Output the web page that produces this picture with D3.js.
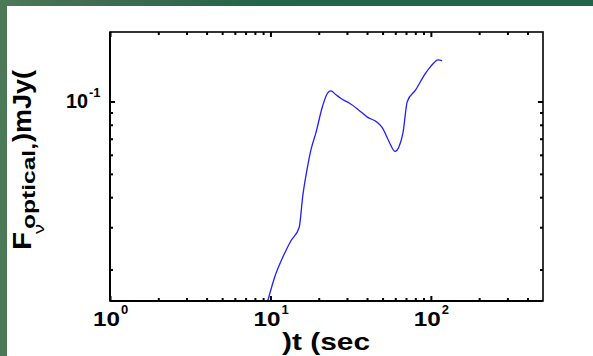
<!DOCTYPE html>
<html><head><meta charset="utf-8">
<script src="https://cdn.jsdelivr.net/npm/d3@7"></script>
<style>body{margin:0;background:#fff;overflow:hidden}svg{display:block}</style>
</head><body>
<svg id="c" width="593" height="356"></svg>
<script>
// ---- data ----
const time = [9.62, 10.6, 11.9, 13.4, 15.1, 15.9, 17.05, 17.9, 19.2, 21.1, 22.7, 23.8, 25.6, 28.8, 31.0, 35.7, 40.2, 46.4, 49.9, 54.8, 59.7, 63.2, 67.0, 71.3, 80.4, 92.7, 99.6, 111, 117.5];
const flux = [0.0148, 0.0185, 0.0224, 0.0263, 0.0299, 0.0404, 0.0537, 0.0630, 0.0740, 0.0953, 0.1084, 0.1107, 0.1066, 0.1010, 0.0985, 0.0918, 0.0861, 0.0818, 0.0776, 0.0682, 0.0620, 0.0647, 0.0740, 0.1000, 0.1118, 0.1312, 0.1397, 0.149, 0.148];
const xMajor = [1, 10, 100];
const xMajorExp = ["0", "1", "2"];
const xMinor = [2,3,4,5,6,7,8,9,20,30,40,50,60,70,80,90,200,300,400];
const yMajor = [0.1];
const yMajorExp = ["-1"];
const yMinor = [0.02,0.03,0.04,0.05,0.06,0.07,0.08,0.09];
const xDomain = [1, 500];
const yDomain = [0.0148, 0.1945];
const xTitle = ")t (sec";
const yTitleMain = "F";
const yTitleNu = "ν";
const yTitleSub = "optical,";
const yTitleUnit = ")mJy(";

const svg = d3.select("#c");
const L = 110, R = 543, T = 32, B = 301;

// background frame
const defs = svg.append("defs");
const g0 = defs.append("linearGradient").attr("id","bg").attr("x1","0").attr("x2","1").attr("y1","0").attr("y2","0");
g0.append("stop").attr("offset","0").attr("stop-color","#4c7a57");
g0.append("stop").attr("offset","0.1").attr("stop-color","#456f52");
g0.append("stop").attr("offset","0.45").attr("stop-color","#23644a");
g0.append("stop").attr("offset","1").attr("stop-color","#22634a");
svg.append("rect").attr("width",593).attr("height",356).attr("fill","url(#bg)");
svg.append("rect").attr("x",7).attr("y",6).attr("width",586).attr("height",350).attr("fill","#fff");

const x = d3.scaleLog().domain(xDomain).range([L, R]);
const y = d3.scaleLog().domain(yDomain).range([B, T]);

defs.append("clipPath").attr("id","clip").append("rect").attr("x",L).attr("y",T).attr("width",R-L).attr("height",B-T);

// curve
svg.append("path")
  .datum(time.map((t,i)=>[t, flux[i]]))
  .attr("clip-path","url(#clip)")
  .attr("fill","none").attr("stroke","#1f1fff").attr("stroke-width",1.3)
  .attr("stroke-linejoin","round")
  .attr("d", d3.line().x(d=>x(d[0])).y(d=>y(d[1])).curve(d3.curveMonotoneX));

// axes with inward ticks
function styleAxis(g){
  g.select(".domain").remove();
  g.selectAll(".tick line").attr("stroke","#000").attr("stroke-width",2);
  g.selectAll(".tick text").remove();
}
const mk = (axis, tv, size, tr) => svg.append("g").attr("transform",tr)
  .call(axis.tickValues(tv).tickSize(size).tickFormat(()=>"")).call(styleAxis);
mk(d3.axisBottom(x), xMajor, -5, `translate(0,${B})`);
mk(d3.axisBottom(x), xMinor, -3, `translate(0,${B})`);
mk(d3.axisTop(x), xMajor, -5, `translate(0,${T})`);
mk(d3.axisTop(x), xMinor, -3, `translate(0,${T})`);
mk(d3.axisLeft(y), yMajor, -5, `translate(${L},0)`);
mk(d3.axisLeft(y), yMinor, -3, `translate(${L},0)`);
mk(d3.axisRight(y), yMajor, -5, `translate(${R},0)`);
mk(d3.axisRight(y), yMinor, -3, `translate(${R},0)`);

// box
svg.append("rect").attr("x",L).attr("y",T).attr("width",R-L).attr("height",B-T)
  .attr("fill","none").attr("stroke","#000").attr("stroke-width",1.6);
svg.append("line").attr("x1",L).attr("x2",R).attr("y1",B).attr("y2",B).attr("stroke","#000").attr("stroke-width",2.2);
svg.append("line").attr("x1",L).attr("x2",L).attr("y1",T).attr("y2",B).attr("stroke","#000").attr("stroke-width",2);

const font = "Arial, 'Liberation Sans', sans-serif";
// x tick labels
xMajor.forEach((v,i)=>{
  const t = svg.append("text").attr("transform",`translate(${x(v)-17},326)`)
    .attr("font-family",font).attr("font-weight","bold").attr("fill","#000");
  t.append("tspan").attr("font-size",21).attr("textLength",27).attr("lengthAdjust","spacingAndGlyphs").text("10");
  t.append("tspan").attr("font-size",13).attr("dx",1).attr("dy",-12).text(xMajorExp[i]);
});
// y tick labels
yMajor.forEach((v,i)=>{
  const t = svg.append("text").attr("transform",`translate(66,${y(v)+7})`)
    .attr("font-family",font).attr("font-weight","bold").attr("fill","#000");
  t.append("tspan").attr("font-size",21).attr("textLength",22).attr("lengthAdjust","spacingAndGlyphs").text("10");
  t.append("tspan").attr("font-size",13).attr("dx",1).attr("dy",-11).text(yMajorExp[i]);
});

// x title
svg.append("text").attr("x",282).attr("y",350).attr("font-family",font).attr("font-weight","bold")
  .attr("font-size",24).attr("textLength",88).attr("lengthAdjust","spacingAndGlyphs").text(xTitle);

// y title (rotated)
const yt = svg.append("g").attr("transform","rotate(-90)").attr("font-family",font).attr("fill","#000");
yt.append("text").attr("x",-250).attr("y",31).attr("font-size",26).attr("font-weight","bold")
  .attr("textLength",18).attr("lengthAdjust","spacingAndGlyphs").text(yTitleMain);
yt.append("text").attr("x",-234).attr("y",44).attr("font-size",15)
  .attr("textLength",10).attr("lengthAdjust","spacingAndGlyphs").text(yTitleNu);
yt.append("text").attr("x",-229).attr("y",35).attr("font-size",19).attr("font-weight","bold")
  .attr("textLength",86).attr("lengthAdjust","spacingAndGlyphs").text(yTitleSub);
yt.append("text").attr("x",-142).attr("y",31).attr("font-size",26).attr("font-weight","bold")
  .attr("textLength",72).attr("lengthAdjust","spacingAndGlyphs").text(yTitleUnit);
</script>
</body></html>
